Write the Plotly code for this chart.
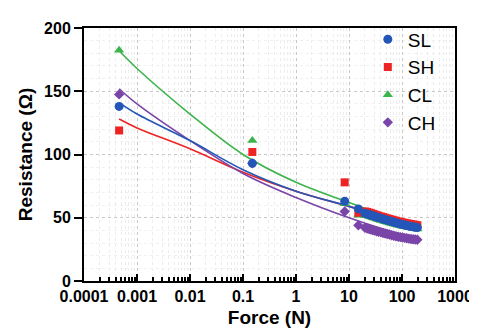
import plotly.graph_objects as go

# ---- data ----
force_pts = [0.00046, 0.15, 8.3]
sl_pts = [138, 93, 63]
sh_pts = [119, 102, 78]
cl_pts = [182.5, 111, 61]
ch_pts = [147.5, 93, 55]

force_dense = [15, 20, 22, 24, 26, 28, 30, 33, 36, 40, 44, 48, 53, 58, 64, 70,
               77, 85, 93, 102, 112, 123, 135, 148, 162, 178, 195]
sl_dense = [57, 53.5, 53, 52.5, 52, 51.6, 51.2, 50.6, 50.1, 49.5, 49, 48.5, 48,
            47.5, 47, 46.5, 46, 45.5, 45.1, 44.7, 44.3, 43.9, 43.5, 43.1, 42.8, 42.5, 42.2]
sh_dense = [54, 55, 54.6, 54.1, 53.6, 53.1, 52.7, 52.1, 51.6, 51, 50.5, 50, 49.5,
            49, 48.5, 48, 47.6, 47.1, 46.7, 46.3, 46, 45.6, 45.3, 45, 44.7, 44.4, 44.1]
cl_dense = [52, 52, 51.5, 51, 50.5, 50, 49.6, 49, 48.5, 47.9, 47.4, 46.9, 46.4,
            45.9, 45.4, 45, 44.5, 44.1, 43.7, 43.3, 43, 42.6, 42.3, 42, 41.7, 41.4, 41.1]
ch_dense = [44, 42, 41.5, 41, 40.6, 40.2, 39.8, 39.3, 38.9, 38.4, 37.9, 37.5, 37.1,
            36.7, 36.2, 35.8, 35.4, 35, 34.7, 34.4, 34.1, 33.8, 33.5, 33.2, 33, 32.8, 32.6]

force_fit = [0.00046, 0.001, 0.01, 0.1, 1, 10, 100, 200]
sl_fit = [141, 132, 111, 88, 71, 59, 46, 43]
sh_fit = [128, 121, 104.5, 86, 71, 59, 48, 45.5]
cl_fit = [182, 168, 132, 100, 78, 62, 47, 43.5]
ch_fit = [152, 140, 111, 85, 66, 50, 36.5, 33]

x_tickvals = [0.0001, 0.001, 0.01, 0.1, 1, 10, 100, 1000]
x_ticktext = ["0.0001", "0.001", "0.01", "0.1", "1", "10", "100", "1000"]
y_tickvals = [0, 50, 100, 150, 200]

colors = {"SL": "#2456b8", "SH": "#ee2424", "CL": "#3cb44b", "CH": "#7a45a8"}
symbols = {"SL": "circle", "SH": "square", "CL": "triangle-up", "CH": "diamond"}
sizes = {"SL": 9, "SH": 8, "CL": 9, "CH": 8}
pts = {"SL": sl_pts, "SH": sh_pts, "CL": cl_pts, "CH": ch_pts}
dense = {"SL": sl_dense, "SH": sh_dense, "CL": cl_dense, "CH": ch_dense}
fits = {"SL": sl_fit, "SH": sh_fit, "CL": cl_fit, "CH": ch_fit}
rank = {"SL": 1, "SH": 2, "CL": 3, "CH": 4}

fig = go.Figure()
draw_order = ["CL", "SH", "CH", "SL"]
for n in draw_order:
    fig.add_trace(go.Scatter(x=force_fit, y=fits[n], mode="lines",
                             line=dict(color=colors[n], width=1.6, shape="spline",
                                       smoothing=1.0),
                             showlegend=False, hoverinfo="skip"))
for n in draw_order:
    fig.add_trace(go.Scatter(x=force_pts + force_dense, y=pts[n] + dense[n],
                             mode="markers", name=n, legendrank=rank[n],
                             marker=dict(symbol=symbols[n], size=sizes[n],
                                         color=colors[n], line=dict(width=0))))

font_family = "Liberation Sans, Arial, sans-serif"
fig.update_layout(
    width=477, height=333,
    margin=dict(l=76, r=20, t=15, b=60),
    paper_bgcolor="white", plot_bgcolor="white",
    font=dict(family=font_family, color="black"),
    legend=dict(x=0.765, y=1.03, xanchor="left", yanchor="top",
                bgcolor="rgba(0,0,0,0)", font=dict(size=19, family=font_family),
                itemwidth=30, tracegroupgap=0),
    showlegend=True,
)
fig.update_xaxes(
    type="log", range=[-4, 3],
    tickvals=x_tickvals, ticktext=x_ticktext,
    ticks="inside", ticklen=7, tickwidth=2, tickcolor="black",
    showline=True, linewidth=2, linecolor="black", mirror=True,
    showgrid=True, gridcolor="#c8c8c8", griddash="dot", gridwidth=1,
    tickfont=dict(size=16, weight="bold"),
    minor=dict(ticks="inside", ticklen=4, tickwidth=1.5, tickcolor="black",
               dtick="D1", showgrid=True, gridcolor="#ececec", griddash="dot"),
    title=dict(text="Force (N)", font=dict(size=19, weight="bold"), standoff=6),
    zeroline=False,
)
fig.update_yaxes(
    range=[0, 200], tickvals=y_tickvals,
    ticks="outside", ticklen=8, tickwidth=2, tickcolor="black",
    showline=True, linewidth=2, linecolor="black", mirror=True,
    showgrid=True, gridcolor="#c8c8c8", griddash="dot", gridwidth=1,
    tickfont=dict(size=16, weight="bold"),
    minor=dict(dtick=10, showgrid=True, gridcolor="#f0f0f0", griddash="dot"),
    title=dict(text="Resistance (Ω)", font=dict(size=19, weight="bold"), standoff=6),
    zeroline=False,
)

fig.write_html("out.html")
